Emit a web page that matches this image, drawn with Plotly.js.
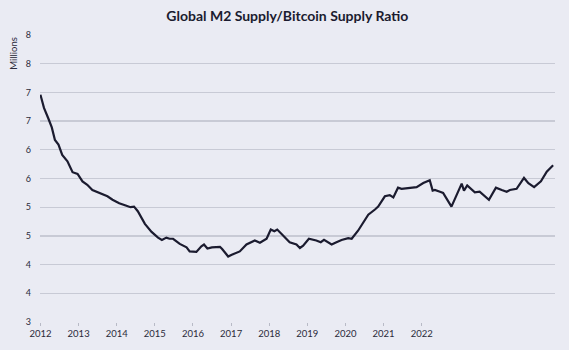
<!DOCTYPE html>
<html>
<head>
<meta charset="utf-8">
<script src="https://cdn.plot.ly/plotly-3.0.1.min.js"></script>
<style>html,body{margin:0;padding:0;background:#eaebf3;}#chart{width:569px;height:350px;}</style>
</head>
<body>
<div id="chart"></div>
<script>
const dates = [
"2012-01-01","2012-02-04","2012-03-16","2012-04-19","2012-05-19","2012-06-22","2012-07-28","2012-09-16","2012-11-04","2012-12-22",
"2013-02-07","2013-03-25","2013-05-13","2013-07-01","2013-08-16","2013-10-04","2013-11-22",
"2014-01-25","2014-03-28","2014-05-13","2014-06-16","2014-07-22","2014-09-28","2014-12-01",
"2015-02-01","2015-03-10","2015-04-22","2015-05-22","2015-06-25","2015-08-28","2015-11-01","2015-12-01",
"2016-02-03","2016-03-22","2016-04-16","2016-05-19","2016-07-01","2016-09-16","2016-10-07","2016-12-04",
"2017-01-07","2017-02-07","2017-03-25","2017-05-28","2017-08-16","2017-10-04","2017-12-07",
"2018-01-16","2018-02-19","2018-03-19","2018-05-13","2018-07-16","2018-09-19","2018-10-22","2018-11-22",
"2019-01-16","2019-03-28","2019-05-10","2019-06-10","2019-08-22","2019-10-07","2019-11-25",
"2020-01-28","2020-03-01","2020-05-01","2020-08-07","2020-10-10","2020-11-10",
"2021-01-13","2021-03-01","2021-04-04","2021-05-19","2021-06-22","2021-11-13",
"2022-01-16","2022-03-19","2022-04-16","2022-05-07","2022-06-25","2022-07-25","2022-10-13","2022-12-01",
"2023-01-19","2023-02-10","2023-03-13","2023-05-25","2023-07-10","2023-10-07","2023-12-13",
"2024-02-07","2024-03-25","2024-04-25","2024-06-28","2024-09-07","2024-10-19","2024-12-13",
"2025-02-16","2025-04-13","2025-05-13","2025-06-13"
];
const ratioMillions = [
6.96,6.73,6.55,6.39,6.17,6.09,5.91,5.80,5.61,5.58,
5.45,5.39,5.30,5.26,5.22,5.19,5.13,
5.07,5.03,5.00,5.01,4.93,4.71,4.57,
4.47,4.43,4.47,4.45,4.45,4.36,4.30,4.23,
4.22,4.32,4.35,4.28,4.30,4.31,4.27,4.14,
4.17,4.20,4.23,4.35,4.42,4.38,4.45,
4.61,4.58,4.61,4.50,4.39,4.35,4.29,4.33,
4.45,4.42,4.39,4.43,4.35,4.39,4.43,
4.46,4.45,4.59,4.87,4.96,5.01,
5.19,5.21,5.17,5.34,5.32,5.35,
5.42,5.47,5.29,5.30,5.27,5.25,5.01,5.22,
5.41,5.29,5.38,5.26,5.27,5.13,5.34,
5.30,5.27,5.30,5.32,5.51,5.42,5.35,
5.45,5.62,5.67,5.73
];
const xTickVals = ["2012-01-01","2013-01-01","2014-01-01","2015-01-01","2016-01-01","2017-01-01","2018-01-01","2019-01-01","2020-01-01","2021-01-01","2022-01-01"];
const xTickText = ["2012","2013","2014","2015","2016","2017","2018","2019","2020","2021","2022"];
const yTickVals = [3,3.5,4,4.5,5,5.5,6,6.5,7,7.5,8];
const yTickText = ["3","4","4","5","5","6","6","7","7","8","8"];

const trace = {
  x: dates, y: ratioMillions, type: "scatter", mode: "lines",
  line: {color: "#1b1b2f", width: 2.2},
  hoverinfo: "skip"
};
const layout = {
  width: 569, height: 350,
  paper_bgcolor: "#eaebf3", plot_bgcolor: "#eaebf3",
  margin: {l: 40, r: 14, t: 35, b: 28},
  showlegend: false,
  title: {text: "<b>Global M2 Supply/Bitcoin Supply Ratio</b>", x: 0.505, xanchor: "center", y: 0.955, yanchor: "middle",
          font: {family: "Lato, sans-serif", size: 14, color: "#1b1b2f"}},
  xaxis: {
    type: "date", range: ["2011-12-28", "2025-07-01"],
    tickvals: xTickVals, ticktext: xTickText,
    showgrid: false, zeroline: false, showline: false,
    ticks: "outside", ticklen: 3, tickcolor: "#b8bac6", tickwidth: 1,
    tickfont: {family: "Lato, sans-serif", size: 9.5, color: "#2a2a3a"}
  },
  yaxis: {
    range: [3, 8], tickvals: yTickVals, ticktext: yTickText,
    showgrid: true, gridcolor: "#c8cad5", gridwidth: 1.3,
    zeroline: false, showline: false, ticks: "", ticklabelstandoff: 8,
    tickfont: {family: "Lato, sans-serif", size: 9, color: "#2a2a3a"}
  },
  annotations: [{
    text: "Millions", xref: "paper", yref: "paper", x: -0.052, y: 1.0,
    xanchor: "center", yanchor: "top", textangle: -90, showarrow: false,
    font: {family: "Lato, sans-serif", size: 9.5, color: "#2a2a3a"}
  }]
};
Plotly.newPlot("chart", [trace], layout, {displayModeBar: false, staticPlot: true});
</script>
</body>
</html>
